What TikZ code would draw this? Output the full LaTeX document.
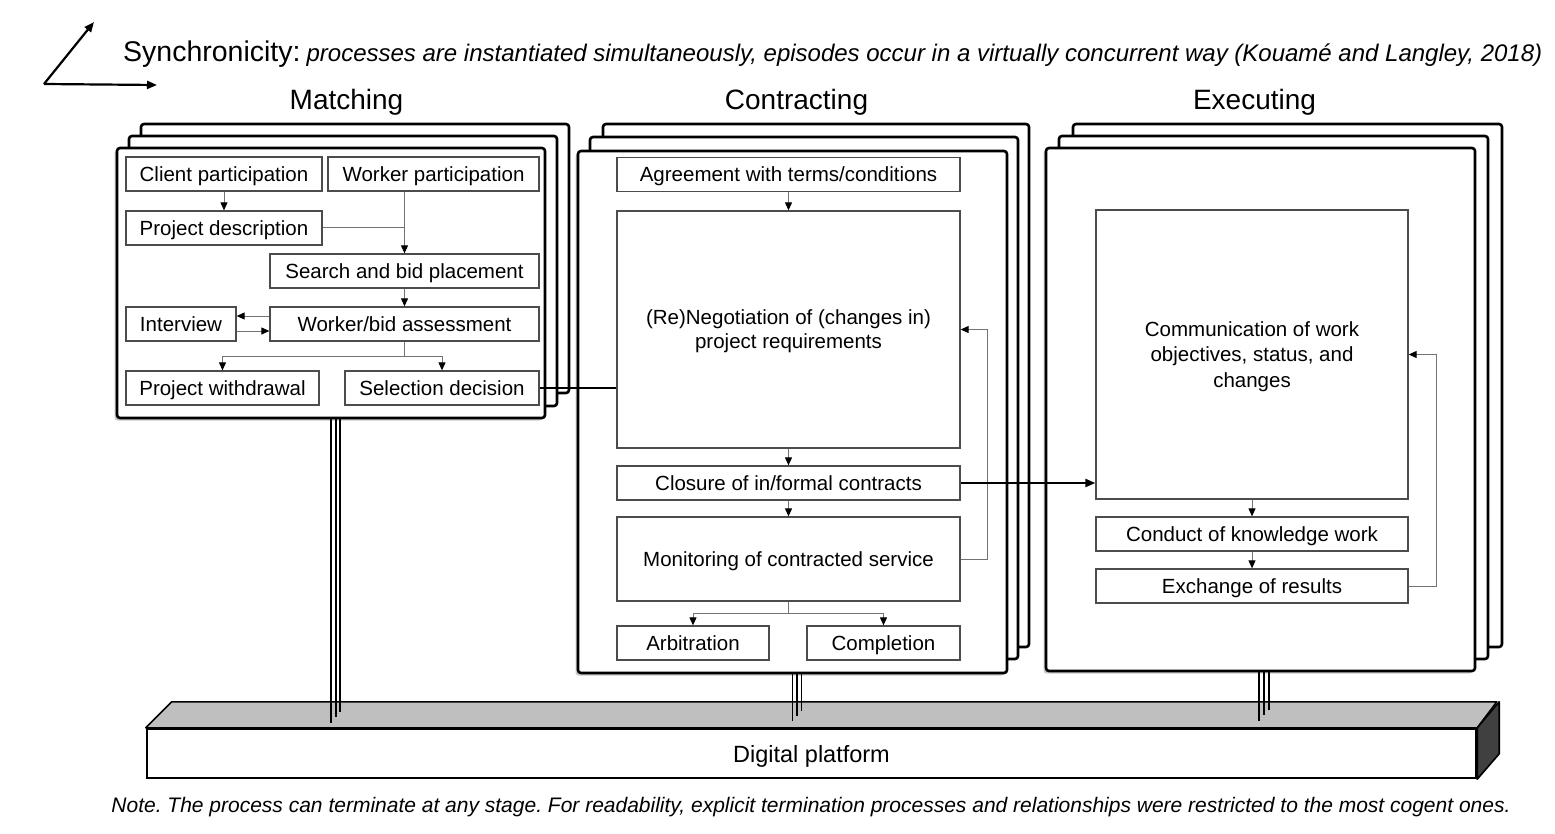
\documentclass[tikz,border=0pt]{standalone}
\usepackage{fontspec}
\setmainfont{Liberation Sans}
\usetikzlibrary{arrows.meta,shadows,calc}
\frenchspacing
\begin{document}
\begin{tikzpicture}[x=1pt,y=-1pt,
 stackbox/.style={draw=black, line width=2.6pt, fill=white, rounded corners=3pt, inner sep=0pt},
 shadowed/.style={drop shadow={shadow xshift=-2.5pt,shadow yshift=-2.5pt,fill=black!30,opacity=0.7}},
 pboxbase/.style={draw=black!70, line width=1.3pt, fill=white, inner sep=0pt, align=center, font=\fontsize{20.5}{24}\selectfont},
 pbox/.style={pboxbase, text height=15pt, text depth=0pt},
 conn/.style={draw=black!55, line width=1pt},
 arr/.style={conn, -{Triangle[length=8pt,width=7pt,color=black]}},
 thickconn/.style={draw=black, line width=2.2pt},
 thickarr/.style={thickconn, -{Triangle[length=10pt,width=8pt]}},
 bigarr/.style={draw=black, line width=2.2pt, -{Triangle[length=10pt,width=8pt]}},
 tline/.style={draw=black, line width=1.8pt},
 ttl/.style={anchor=base, inner sep=0pt, font=\fontsize{28}{32}\selectfont},
]
\useasboundingbox (0,0) rectangle (1555,834);

% synchronicity axes
\coordinate (sy0) at (44,84);
\coordinate (syU) at (94,22);
\coordinate (syR) at (157,85);
\draw[bigarr] (sy0) -- (syU);
\draw[bigarr] (sy0) -- (syR);
\node[anchor=base west, inner sep=0pt] (sync) at (123,62) {{\fontsize{28.5}{32}\selectfont Synchronicity:}\hspace{6pt}{\fontsize{24}{28}\selectfont\itshape processes are instantiated simultaneously, episodes occur in a virtually concurrent way (Kouamé and Langley, 2018)}};

% titles
\node[ttl] (tM) at (346.5,110) {Matching};
\node[ttl] (tC) at (796.5,110) {Contracting};
\node[ttl] (tE) at (1254.5,110) {Executing};

% stacks
\draw[stackbox] (141,124) rectangle (569,393);
\draw[stackbox] (129,136) rectangle (557,406);
\node[stackbox, shadowed, minimum width=428pt, minimum height=270pt] (mf) at (331,283) {};

\draw[stackbox] (603,124) rectangle (1029,647);
\draw[stackbox] (590,137) rectangle (1018,659);
\node[stackbox, shadowed, minimum width=429pt, minimum height=522pt] (cf) at (792.5,412) {};

\draw[stackbox] (1073,124) rectangle (1502,647);
\draw[stackbox] (1059,136) rectangle (1488,659);
\node[stackbox, shadowed, minimum width=429pt, minimum height=523pt] (ef) at (1260.5,409.5) {};

% Matching boxes
\node[pbox, minimum width=196pt, minimum height=34pt] (cp) at (224,174) {Client participation};
\node[pbox, minimum width=211pt, minimum height=34pt] (wp) at (433.5,174) {Worker participation};
\node[pbox, minimum width=196pt, minimum height=34pt] (pd) at (224,228) {Project description};
\node[pbox, minimum width=269pt, minimum height=34pt] (sb) at (404.5,271) {Search and bid placement};
\node[pbox, minimum width=110pt, minimum height=34pt] (iv) at (181,324) {Interview};
\node[pbox, minimum width=269pt, minimum height=34pt] (wb) at (404.5,324) {Worker/bid assessment};
\node[pbox, minimum width=193pt, minimum height=34pt] (pw) at (222.5,388) {Project withdrawal};
\node[pbox, minimum width=194pt, minimum height=34pt] (sd) at (442,388) {Selection decision};

% Contracting boxes
\node[pbox, minimum width=343pt, minimum height=34pt] (ag) at (788.5,174.5) {Agreement with terms/conditions};
\node[pboxbase, minimum width=343pt, minimum height=237pt, text depth=0pt] (ng) at (788.5,329.5) {(Re)Negotiation of (changes in)\\project requirements};
\node[pbox, minimum width=343pt, minimum height=34pt] (cl) at (788.5,483) {Closure of in/formal contracts};
\node[pbox, minimum width=343pt, minimum height=84pt] (mo) at (788.5,559) {Monitoring of contracted service};
\node[pbox, minimum width=152pt, minimum height=34pt] (ar) at (693,643) {Arbitration};
\node[pbox, minimum width=153pt, minimum height=34pt] (co) at (883.5,643) {Completion};

% Executing boxes
\node[pboxbase, minimum width=312pt, minimum height=289pt, font=\fontsize{20.5}{25.5}\selectfont, text depth=0pt] (cm) at (1252,354.5) {Communication of work\\objectives, status, and\\changes};
\node[pbox, minimum width=312pt, minimum height=34pt] (ck) at (1252,534) {Conduct of knowledge work};
\node[pbox, minimum width=312pt, minimum height=34pt] (ex) at (1252,586) {Exchange of results};

% Matching connectors
\draw[arr] (cp.south) -- (pd.north);
\draw[arr] (sb.north |- wp.south) -- (sb.north);
\draw[conn] (pd.east) -- (pd.east -| sb.north);
\draw[arr] (sb.south) -- (wb.north);
\draw[arr] ([yshift=8pt]wb.west) -- ([yshift=8pt]wb.west -| iv.east);
\draw[arr] ([yshift=-7pt]iv.east) -- ([yshift=-7pt]iv.east -| wb.west);
\coordinate (msplit) at ($(wb.south)+(0,15)$);
\draw[conn] (wb.south) -- (msplit);
\draw[arr] (msplit) -| (pw.north);
\draw[arr] (msplit) -| (sd.north);
\draw[thickconn] (sd.east) -- (sd.east -| ng.west);

% Contracting connectors
\draw[arr] (ag.south) -- (ng.north);
\draw[arr] (ng.south) -- (cl.north);
\draw[arr] (cl.south) -- (mo.north);
\coordinate (csplit) at ($(mo.south)+(0,12)$);
\draw[conn] (mo.south) -- (csplit);
\draw[arr] (csplit) -| (ar.north);
\draw[arr] (csplit) -| (co.north);
\draw[arr] (mo.east) -- ++(27,0) |- (ng.east);
\draw[thickarr] (cl.east) -- (cl.east -| cm.west);

% Executing connectors
\draw[arr] (cm.south) -- (ck.north);
\draw[arr] (ck.south) -- (ex.north);
\draw[arr] (ex.east) -- ++(28,0) |- (cm.east);

% platform
\node[draw=black, line width=2.4pt, fill=white, inner sep=0pt, minimum width=1329pt, minimum height=49pt, font=\fontsize{23.5}{26}\selectfont, text height=17pt, text depth=0pt] (plat) at (811.5,753.5) {Digital platform};
\filldraw[draw=black, line width=1.6pt, fill=black!25, line join=round] (plat.north west) -- ++(26,-26) -- ++(1325,0) -- (plat.north east) -- cycle;
\filldraw[draw=black, line width=1.6pt, fill=black!75, line join=round] (plat.north east) -- ++(22,-26) -- ++(0,52) -- (plat.south east) -- cycle;

% triple links
\draw[tline] ([xshift=0pt]mf.south) -- ++(0,304);
\draw[tline] ([xshift=5pt]mf.south) -- ++(0,298);
\draw[tline] ([xshift=9pt]mf.south) -- ++(0,293);
\draw[tline] ([xshift=0pt]cf.south) -- ++(0,47);
\draw[tline] ([xshift=4.5pt]cf.south) -- ++(0,42);
\draw[tline] ([xshift=9pt]cf.south) -- ++(0,37);
\draw[tline] ([xshift=-1.5pt]ef.south) -- ++(0,49);
\draw[tline] ([xshift=3.5pt]ef.south) -- ++(0,43);
\draw[tline] ([xshift=8.5pt]ef.south) -- ++(0,38);

% note
\node[anchor=base, inner sep=0pt, font=\fontsize{21}{24}\selectfont\itshape] (note) at (811,812) {Note. The process can terminate at any stage. For readability, explicit termination processes and relationships were restricted to the most cogent ones.};
\end{tikzpicture}
\end{document}
